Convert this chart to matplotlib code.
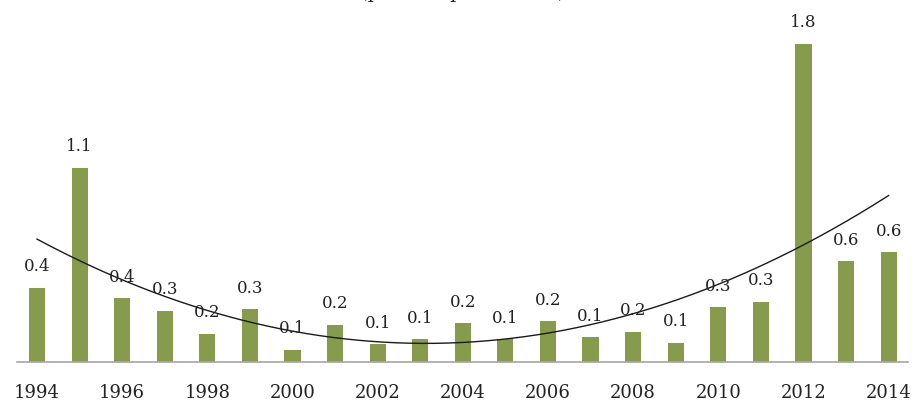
import numpy as np
import matplotlib
matplotlib.use('Agg')
import matplotlib.pyplot as plt

years = list(range(1994, 2015))
values = [0.42, 1.10, 0.36, 0.29, 0.16, 0.30, 0.07, 0.21, 0.10, 0.13, 0.22,
          0.13, 0.23, 0.14, 0.17, 0.11, 0.31, 0.34, 1.80, 0.57, 0.62]
tick_years = list(range(1994, 2015, 2))
title = "(percent per annum)"

plt.rcParams['font.family'] = ['DejaVu Serif']

fig = plt.figure(figsize=(9.16, 4.03), dpi=100)
ax = fig.add_axes([0.0186, 0.1017, 0.9724, 0.8983])

x = np.array(years)
y = np.array(values)
ax.bar(x, y, width=0.38, color='#879b4c', zorder=2)

# polynomial trend line
coef = np.polyfit(x - x[0], y, 2)
xs = np.linspace(x[0], x[-1], 200)
ax.plot(xs, np.polyval(coef, xs - x[0]), color='#1a1a1a', lw=1.0, zorder=3)

for xi, yi in zip(x, y):
    ax.annotate(f"{yi:.1f}", (xi, yi), xytext=(0, 9), textcoords='offset points',
                ha='center', va='bottom', fontsize=12, color='#222222', zorder=4)

ax.set_xlim(1993.53, 2014.45)
ax.set_ylim(0, 2.049)
ax.set_xticks(tick_years)
ax.set_xticklabels([str(t) for t in tick_years], fontsize=13, color='#222222')
ax.tick_params(axis='x', length=0, pad=16)
ax.set_yticks([])
for s in ['top', 'right', 'left']:
    ax.spines[s].set_visible(False)
ax.spines['bottom'].set_color('#a6a6a6')
ax.spines['bottom'].set_linewidth(1.2)

# title sits mostly above the visible area, as in the source image
fig.text(0.505, 1.004, title, ha='center', va='baseline', fontsize=14,
         color='#222222')

fig.savefig('out.png', dpi=100)
